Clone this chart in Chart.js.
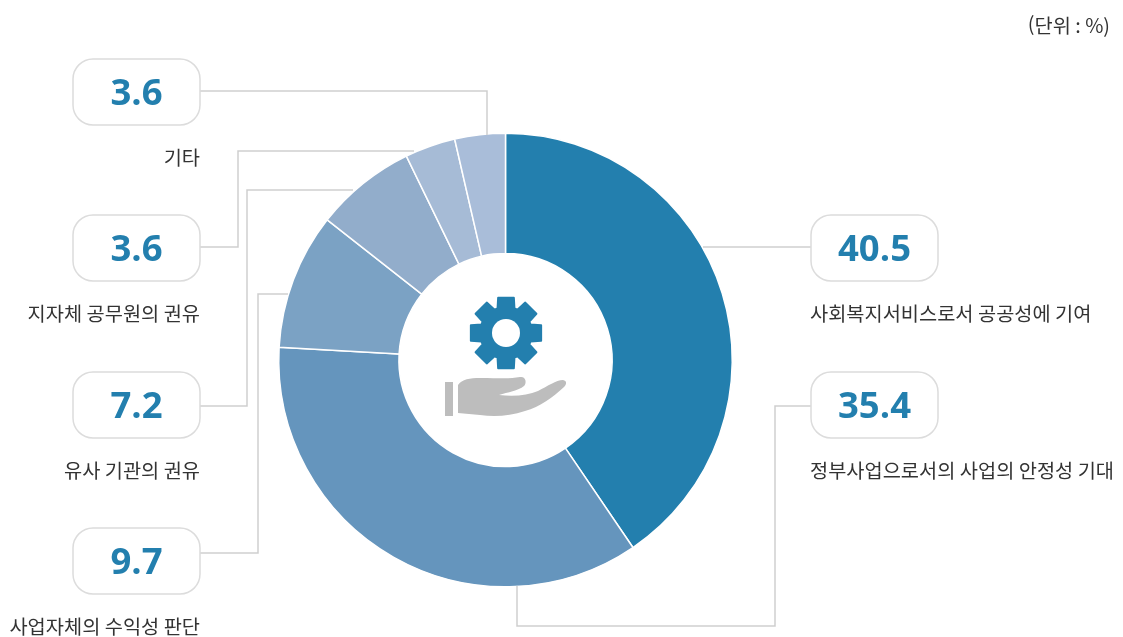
<!DOCTYPE html>
<html lang="ko">
<head>
<meta charset="utf-8">
<title>도넛 차트</title>
<script src="https://cdn.jsdelivr.net/npm/chart.js@4/dist/chart.umd.min.js"></script>
<style>
    html, body { margin: 0; padding: 0; background: #fff; }
    #wrap { width: 1123px; height: 637px; position: relative; }
</style>
</head>
<body>
<div id="wrap"><canvas id="donut" width="1123" height="637"></canvas></div>
<script>
const categories = ['사회복지서비스로서 공공성에 기여', '정부사업으로서의 사업의 안정성 기대', '사업자체의 수익성 판단', '유사 기관의 권유', '지자체 공무원의 권유', '기타'];
const values = [40.5, 35.4, 9.7, 7.2, 3.6, 3.6];
const sliceColors = ['#237fae', '#6595bd', '#7ba2c4', '#92adcb', '#a6bbd6', '#a9bdd9'];
const unitLabel = '(단위 : %)';

// callout layout, same order as categories: box top-left, then leader line path
const callouts = [
    { box: [811, 215], side: 'right', path: [[811, 247], [703, 247]] },
    { box: [811, 372], side: 'right', path: [[811, 406], [775, 406], [775, 626], [517, 626], [517, 586]] },
    { box: [73, 528], side: 'left', path: [[200, 553], [258, 553], [258, 294], [288, 294]] },
    { box: [73, 372], side: 'left', path: [[200, 406], [247, 406], [247, 190], [353, 190]] },
    { box: [73, 215], side: 'left', path: [[200, 247], [238, 247], [238, 151], [414, 151]] },
    { box: [73, 59], side: 'left', path: [[200, 91], [487, 91], [487, 135]] }
];
const BOX_W = 127, BOX_H = 66;
const LABEL_FONT = '19.75px "Noto Sans CJK KR"';
const VALUE_FONT = 'bold 36.5px "Open Sans"';

function drawGear(ctx, cx, cy) {
    const tipR = 36, baseR = 26, holeR = 14;
    ctx.save();
    ctx.fillStyle = ctx.strokeStyle = '#237fae';
    ctx.lineWidth = 2;
    ctx.lineJoin = 'round';
    ctx.beginPath();
    for (let i = 0; i < 8; i++) {
        const a = i * Math.PI / 4 - Math.PI / 2;
        const pts = [[baseR, -0.33], [tipR, -0.22], [tipR, 0.22], [baseR, 0.33]];
        pts.forEach(([r, d]) => {
            ctx.lineTo(cx + r * Math.cos(a + d), cy + r * Math.sin(a + d));
        });
    }
    ctx.closePath();
    ctx.stroke();
    ctx.fill();
    ctx.fillStyle = '#fff';
    ctx.beginPath();
    ctx.arc(cx, cy, holeR, 0, Math.PI * 2);
    ctx.fill();
    ctx.restore();
}

function drawHand(ctx) {
    ctx.save();
    ctx.fillStyle = '#bdbdbd';
    ctx.fillRect(445, 382, 8, 34);
    ctx.beginPath();
    ctx.moveTo(458, 385);
    ctx.bezierCurveTo(462, 379, 470, 378, 480, 378);
    ctx.bezierCurveTo(500, 378, 510, 379, 520, 377);
    ctx.bezierCurveTo(526, 376, 527, 383, 524, 386);
    ctx.bezierCurveTo(518, 391, 508, 392, 499, 395);
    ctx.bezierCurveTo(515, 397, 528, 395, 538, 391);
    ctx.bezierCurveTo(548, 386, 556, 380, 563, 380);
    ctx.bezierCurveTo(567, 381, 567, 384, 564, 387);
    ctx.bezierCurveTo(553, 397, 540, 407, 525, 411);
    ctx.bezierCurveTo(510, 416, 495, 417, 480, 415);
    ctx.lineTo(458, 413);
    ctx.closePath();
    ctx.fill();
    ctx.restore();
}

const calloutPlugin = {
    id: 'callouts',
    afterDatasetsDraw(chart) {
        const ctx = chart.ctx;
        ctx.save();

        ctx.strokeStyle = '#cfcfcf';
        ctx.lineWidth = 1.5;
        callouts.forEach(c => {
            ctx.beginPath();
            c.path.forEach(([x, y], i) => i ? ctx.lineTo(x, y) : ctx.moveTo(x, y));
            ctx.stroke();
        });

        callouts.forEach((c, i) => {
            const [x, y] = c.box;
            ctx.beginPath();
            ctx.roundRect(x, y, BOX_W, BOX_H, 20);
            ctx.fillStyle = '#fff';
            ctx.fill();
            ctx.strokeStyle = '#dcdcdc';
            ctx.lineWidth = 1.5;
            ctx.stroke();

            ctx.fillStyle = '#237fae';
            ctx.font = VALUE_FONT;
            ctx.textAlign = 'center';
            ctx.textBaseline = 'alphabetic';
            ctx.fillText(values[i].toFixed(1), x + BOX_W / 2, y + 46);

            ctx.fillStyle = '#333';
            ctx.font = LABEL_FONT;
            ctx.textBaseline = 'middle';
            if (c.side === 'right') {
                ctx.textAlign = 'left';
                ctx.fillText(categories[i], x - 1, y + BOX_H + 32);
            } else {
                ctx.textAlign = 'right';
                ctx.fillText(categories[i], x + BOX_W, y + BOX_H + 32);
            }
        });

        ctx.fillStyle = '#333';
        ctx.font = LABEL_FONT;
        ctx.textAlign = 'right';
        ctx.textBaseline = 'middle';
        ctx.fillText(unitLabel, 1110, 25);

        drawGear(ctx, 506, 333);
        drawHand(ctx);
        ctx.restore();
    }
};

document.fonts.load(VALUE_FONT).finally(() => {
    new Chart(document.getElementById('donut').getContext('2d'), {
        type: 'doughnut',
        data: {
            labels: categories,
            datasets: [{
                data: values,
                backgroundColor: sliceColors,
                borderColor: '#fff',
                borderWidth: 1.5
            }]
        },
        options: {
            responsive: false,
            animation: false,
            cutout: '47%',
            layout: { padding: { left: 278, right: 390, top: 132.5, bottom: 49.5 } },
            plugins: {
                legend: { display: false },
                tooltip: { enabled: false }
            }
        },
        plugins: [calloutPlugin]
    });
});
</script>
</body>
</html>
